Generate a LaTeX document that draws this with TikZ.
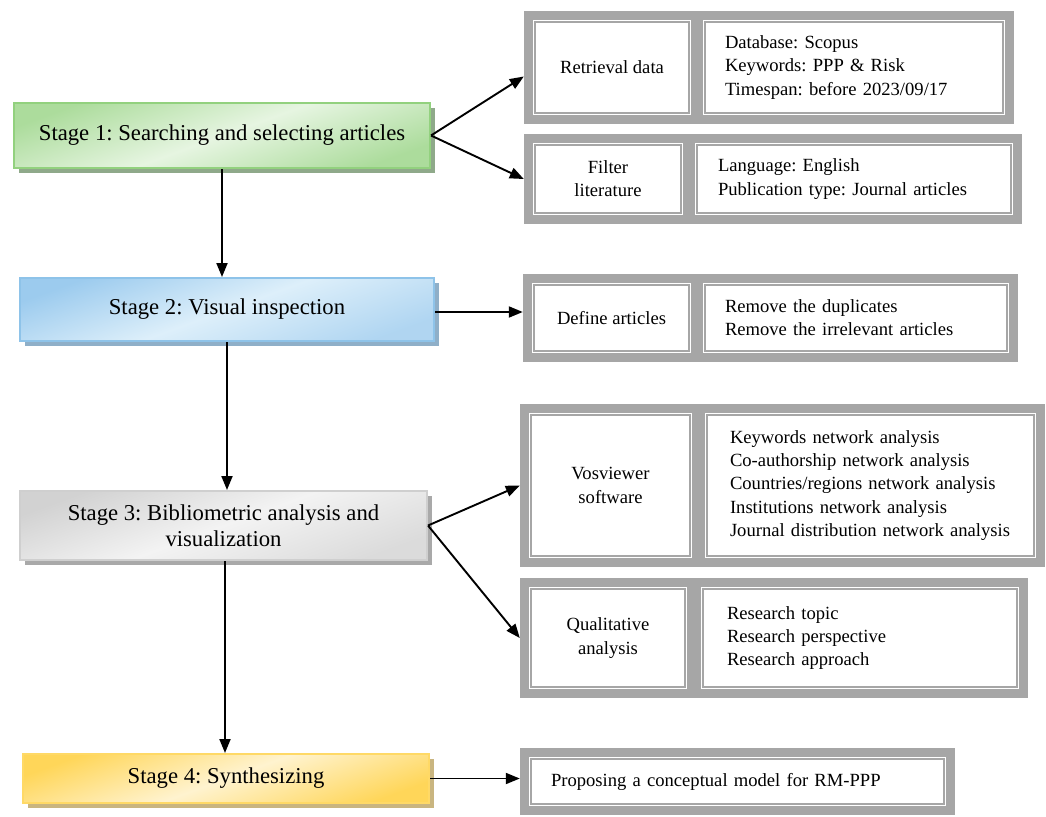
\documentclass[tikz,border=0pt]{standalone}
\usepackage{fontspec}
\setmainfont{Liberation Serif}
\usetikzlibrary{arrows.meta,shadows}
\frenchspacing

\definecolor{framegray}{HTML}{A6A6A6}
\definecolor{gEdge}{HTML}{92D17E}
\definecolor{gDark}{HTML}{ACDC9C}
\definecolor{gLight}{HTML}{E6F5E1}
\definecolor{gShadow}{HTML}{8FA98A}
\definecolor{bEdge}{HTML}{8EC3E9}
\definecolor{bDark}{HTML}{9CCBEE}
\definecolor{bLight}{HTML}{DDEFFA}
\definecolor{bShadow}{HTML}{8FAFC8}
\definecolor{kEdge}{HTML}{CFCFCF}
\definecolor{kDark}{HTML}{D2D2D2}
\definecolor{kLight}{HTML}{F3F3F3}
\definecolor{kShadow}{HTML}{A9A9A9}
\definecolor{yEdge}{HTML}{FFD966}
\definecolor{yDark}{HTML}{FFD659}
\definecolor{yLight}{HTML}{FFF3CF}
\definecolor{yShadow}{HTML}{C9B580}

\begin{document}
\begin{tikzpicture}[x=1pt,y=-1pt,
  stagebox/.style={line width=2pt, inner sep=0pt, align=center,
    font=\fontsize{22.7}{26.5}\selectfont},
  greenbox/.style={draw=gEdge, top color=gDark, bottom color=gDark, middle color=gLight,
    shading angle=20, drop shadow={shadow xshift=5pt, shadow yshift=-5pt, fill=gShadow, opacity=1}},
  bluebox/.style={draw=bEdge, top color=bDark, bottom color=bDark!80!white, middle color=bLight,
    shading angle=20, drop shadow={shadow xshift=5pt, shadow yshift=-5pt, fill=bShadow, opacity=1}},
  graybox/.style={draw=kEdge, top color=kDark, bottom color=kDark!80!white, middle color=kLight,
    shading angle=20, drop shadow={shadow xshift=5pt, shadow yshift=-5pt, fill=kShadow, opacity=1}},
  yellowbox/.style={draw=yEdge, top color=yDark, bottom color=yDark, middle color=yLight,
    shading angle=20, drop shadow={shadow xshift=5pt, shadow yshift=-5pt, fill=yShadow, opacity=1}},
  frame/.style={fill=framegray, draw=none, inner sep=0pt},
  cell/.style={fill=white, draw=framegray, double=white, double distance=1.6pt,
    line width=1.3pt, inner sep=0pt, font=\fontsize{18.6}{23.2}\selectfont},
  arr/.style={line width=1.9pt, -{Triangle[length=14pt,width=11pt]}}
]
\useasboundingbox (0,0) rectangle (1046,816);

% stages
\node[stagebox, greenbox, minimum width=416pt, minimum height=65pt] (s1) at (222,135.5)
  {Stage 1: Searching and selecting articles};
\node[stagebox, bluebox, minimum width=414pt, minimum height=63pt] (s2) at (227,309.5)
  {Stage 2: Visual inspection};
\node[stagebox, graybox, minimum width=407pt, minimum height=69pt] (s3) at (223.5,525.5)
  {Stage 3: Bibliometric analysis and\\visualization};
\node[stagebox, yellowbox, minimum width=406pt, minimum height=49pt] (s4) at (226,778.5)
  {Stage 4: Synthesizing};

% retrieval
\node[frame, minimum width=490pt, minimum height=113pt] (fa) at (769,67.5) {};
\node[cell, minimum width=157pt, minimum height=94pt, align=center] (a1) at (612,67.5)
  {Retrieval data};
\node[cell, minimum width=301pt, minimum height=94pt, text width=258pt, align=left] (a2) at (854,67.5)
  {Database: Scopus\\Keywords: PPP \& Risk\\Timespan: before 2023/09/17};

% filter
\node[frame, minimum width=498pt, minimum height=90pt] (fb) at (773,179) {};
\node[cell, minimum width=149pt, minimum height=71pt, align=center] (b1) at (608,179)
  {Filter\\literature};
\node[cell, minimum width=317pt, minimum height=71pt, text width=272pt, align=left] (b2) at (854,179)
  {Language: English\\Publication type: Journal articles};

% define
\node[frame, minimum width=495pt, minimum height=88pt] (fc) at (770.5,318) {};
\node[cell, minimum width=158pt, minimum height=69pt, align=center] (c1) at (611.5,318)
  {Define articles};
\node[cell, minimum width=305pt, minimum height=69pt, text width=262pt, align=left] (c2) at (856,318)
  {Remove the duplicates\\Remove the irrelevant articles};

% vosviewer
\node[frame, minimum width=525pt, minimum height=163pt] (fd) at (782.5,485.5) {};
\node[cell, minimum width=162pt, minimum height=144pt, align=center] (d1) at (610.5,485.5)
  {Vosviewer\\software};
\node[cell, minimum width=330pt, minimum height=144pt, text width=281pt, align=left] (d2) at (870.5,485.5)
  {Keywords network analysis\\Co-authorship network analysis\\Countries/regions network analysis\\Institutions network analysis\\Journal distribution network analysis};

% qualitative
\node[frame, minimum width=508pt, minimum height=120pt] (fe) at (774,638) {};
\node[cell, minimum width=157pt, minimum height=101pt, align=center] (e1) at (608,638)
  {Qualitative\\analysis};
\node[cell, minimum width=317pt, minimum height=101pt, text width=266pt, align=left] (e2) at (860,638)
  {Research topic\\Research perspective\\Research approach};

% proposing
\node[frame, minimum width=435pt, minimum height=67pt] (ff) at (737.5,781.5) {};
\node[cell, minimum width=416pt, minimum height=48pt, text width=373pt, align=left] (f1) at (737.5,781.5)
  {Proposing a conceptual model for RM-PPP};

% connectors
\draw[arr] (s1.south) -- (s1.south |- s2.north);
\draw[arr] (s2.south) -- (s2.south |- s3.north);
\draw[arr] ([xshift=1.5pt]s3.south) -- ([xshift=1.5pt]s3.south |- s4.north);
\draw[arr] (s1.east) -- ([yshift=-9pt]fa.west);
\draw[arr] (s1.east) -- (fb.west);
\draw[arr] ([yshift=-2.5pt]s2.east) -- ([yshift=-2.5pt]s2.east -| fc.west);
\draw[arr] (s3.east) -- (fd.west);
\draw[arr] (s3.east) -- (fe.west);
\draw[arr] (s4.east) -- (s4.east -| ff.west);
\end{tikzpicture}
\end{document}
